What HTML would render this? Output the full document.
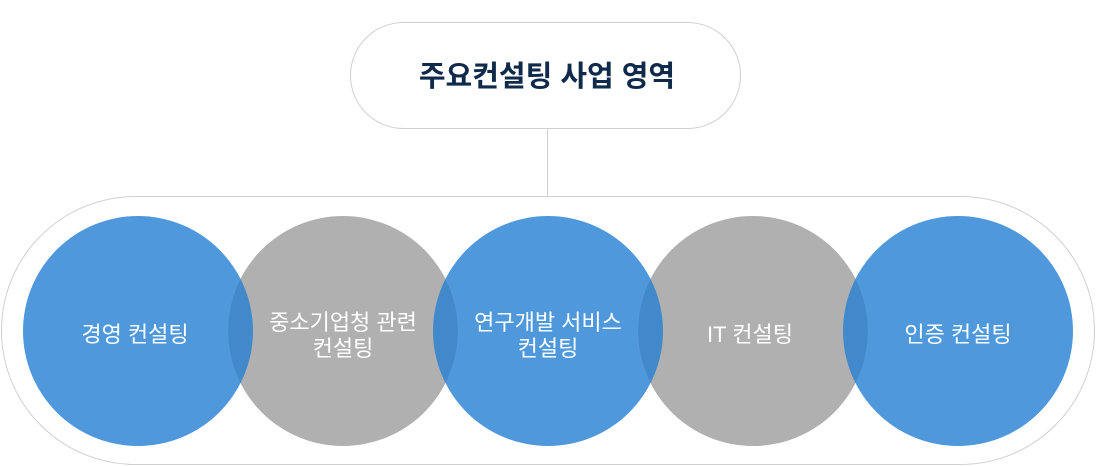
<html><head><style>body{margin:0;background:#fff;width:1096px;height:466px;overflow:hidden}</style></head><body>
<svg width="1096" height="466" xmlns="http://www.w3.org/2000/svg" font-family="'Liberation Sans','Noto Sans CJK KR',sans-serif">
<rect x="350.5" y="22.5" width="390" height="106" rx="53" fill="#fff" stroke="#d0d0d0"/>
<text x="547" y="86" text-anchor="middle" font-size="29" font-weight="bold" fill="#0f2a4a">주요컨설팅 사업 영역</text>
<line x1="547.5" y1="128" x2="547.5" y2="196" stroke="#d0d0d0"/>
<rect x="1.5" y="196.5" width="1093" height="268" rx="134" fill="#fff" stroke="#d0d0d0"/>
<defs>
<clipPath id="a"><circle cx="138" cy="331" r="115"/></clipPath>
<clipPath id="b"><circle cx="548" cy="331" r="115"/></clipPath>
<clipPath id="c"><circle cx="958" cy="331" r="115"/></clipPath>
</defs>
<g fill="#4f98dc"><circle cx="138" cy="331" r="115"/><circle cx="548" cy="331" r="115"/><circle cx="958" cy="331" r="115"/></g>
<g fill="#b0b0b0"><circle cx="343" cy="331" r="115"/><circle cx="753" cy="331" r="115"/></g>
<g fill="#4289cc">
<circle cx="343" cy="331" r="115" clip-path="url(#a)"/>
<circle cx="343" cy="331" r="115" clip-path="url(#b)"/>
<circle cx="753" cy="331" r="115" clip-path="url(#b)"/>
<circle cx="753" cy="331" r="115" clip-path="url(#c)"/>
</g>
<g fill="#fff" font-size="22" text-anchor="middle">
<text x="135" y="342">경영 컨설팅</text>
<text x="343" y="330">중소기업청 관련</text><text x="343" y="356">컨설팅</text>
<text x="548" y="330">연구개발 서비스</text><text x="548" y="356">컨설팅</text>
<text x="750" y="342">IT 컨설팅</text>
<text x="958" y="342">인증 컨설팅</text>
</g>
</svg></body></html>
